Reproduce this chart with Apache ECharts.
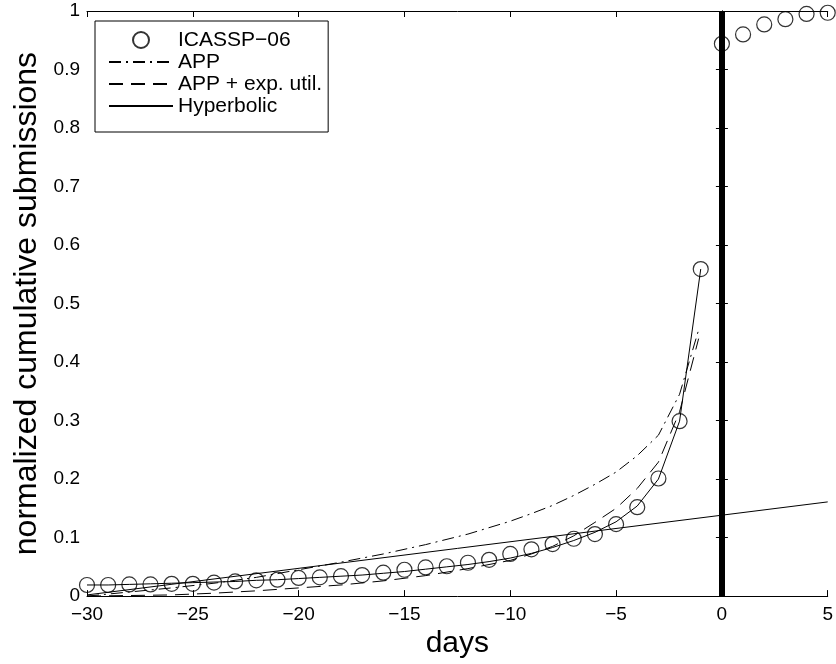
<!DOCTYPE html>
<html>
<head>
<meta charset="utf-8">
<script src="https://cdn.jsdelivr.net/npm/echarts@6/dist/echarts.min.js"></script>
<style>
  html, body { margin: 0; padding: 0; background: #fff; }
  #show { width: 836px; height: 664px; }
</style>
</head>
<body>
<div id="show"></div>
<script>
var myChart = echarts.init(document.getElementById("show"));

// observed submissions (days relative to deadline)
var icasspDays = [-30, -29, -28, -27, -26, -25, -24, -23, -22, -21, -20, -19, -18, -17, -16, -15,
                  -14, -13, -12, -11, -10, -9, -8, -7, -6, -5, -4, -3, -2, -1, 0, 1, 2, 3, 4, 5];
var icasspValues = [0.019, 0.019, 0.020, 0.020, 0.021, 0.021, 0.023, 0.025, 0.027, 0.028, 0.031, 0.032,
                    0.034, 0.036, 0.040, 0.045, 0.049, 0.051, 0.057, 0.062, 0.072, 0.080, 0.089, 0.098,
                    0.106, 0.123, 0.152, 0.201, 0.299, 0.559, 0.944, 0.960, 0.977, 0.986, 0.995, 0.997];

// model fits
var fitDays = [-30, -28, -26, -24, -22, -20, -18, -16, -14, -12, -10, -9, -8, -7, -6, -5, -4, -3, -2, -1.1];
var appValues = [0.000, 0.007, 0.014, 0.022, 0.032, 0.045, 0.058, 0.072, 0.088, 0.106, 0.128, 0.141,
                 0.155, 0.172, 0.191, 0.212, 0.240, 0.275, 0.345, 0.455];
var expUtilValues = [0.000, 0.001, 0.002, 0.005, 0.009, 0.014, 0.019, 0.026, 0.035, 0.047, 0.061, 0.072,
                     0.085, 0.103, 0.126, 0.150, 0.184, 0.229, 0.315, 0.440];

var hypDays = [-30, -29, -28, -27, -26, -25, -24, -23, -22, -21, -20, -19, -18, -17, -16, -15,
               -14, -13, -12, -11, -10, -9, -8, -7, -6, -5, -4, -3, -2, -1];
var hypValues = [0.019, 0.019, 0.020, 0.021, 0.022, 0.023, 0.024, 0.025, 0.027, 0.028, 0.030, 0.032,
                 0.034, 0.036, 0.039, 0.042, 0.046, 0.050, 0.054, 0.059, 0.065, 0.073, 0.083, 0.095,
                 0.109, 0.127, 0.154, 0.200, 0.299, 0.559];

var lineDays = [-30, 5];
var lineValues = [0.002, 0.161];

var deadline = 0;

function pairs(xs, ys) {
    return xs.map(function (x, i) { return [x, ys[i]]; });
}

var font = 'Liberation Sans';
var minus = function (v) { return String(v).replace('-', '\u2212'); };

var xBase = {
    type: 'value', min: -30, max: 5, interval: 5,
    axisLine: { show: true, onZero: false, lineStyle: { color: '#000', width: 1 } },
    axisTick: { show: true, inside: true, length: 6, lineStyle: { color: '#000' } },
    splitLine: { show: false }
};
var yBase = {
    type: 'value', min: 0, max: 1, interval: 0.1,
    axisLine: { show: true, lineStyle: { color: '#000', width: 1 } },
    axisTick: { show: true, inside: true, length: 6, lineStyle: { color: '#000' } },
    splitLine: { show: false }
};

var noSymbol = { opacity: 0 };

myChart.setOption({
    animation: false,
    textStyle: { fontFamily: font },
    grid: { left: 87, right: 8, top: 11, bottom: 67 },
    legend: {
        orient: 'vertical',
        left: 95, top: 21,
        data: [
            { name: 'ICASSP\u221206' },
            { name: 'APP', itemStyle: noSymbol },
            { name: 'APP + exp. util.', itemStyle: noSymbol },
            { name: 'Hyperbolic', itemStyle: noSymbol }
        ],
        itemWidth: 64, itemHeight: 16, itemGap: 0, itemTextGap: 6,
        padding: [8, 6, 15, 13],
        borderColor: '#000', borderWidth: 1,
        backgroundColor: '#fff',
        textStyle: { fontFamily: font, fontSize: 21, lineHeight: 22, color: '#000' }
    },
    xAxis: [
        echarts.util.merge({
            position: 'bottom',
            name: 'days', nameLocation: 'middle', nameGap: 31,
            nameTextStyle: { fontFamily: font, fontSize: 30, color: '#000' },
            axisLabel: { color: '#000', fontSize: 19, fontFamily: font, margin: 9, formatter: minus }
        }, xBase, true),
        echarts.util.merge({ position: 'top', axisLabel: { show: false } }, xBase, true)
    ],
    yAxis: [
        echarts.util.merge({
            position: 'left',
            name: 'normalized cumulative submissions', nameLocation: 'middle', nameGap: 44,
            nameTextStyle: { fontFamily: font, fontSize: 32, color: '#000' },
            axisLabel: { color: '#000', fontSize: 19, fontFamily: font, margin: 7 }
        }, yBase, true),
        echarts.util.merge({ position: 'right', axisLabel: { show: false } }, yBase, true)
    ],
    series: [
        {
            name: 'linear', type: 'line', data: pairs(lineDays, lineValues),
            symbol: 'none', silent: true,
            lineStyle: { color: '#000', width: 1 },
            markLine: {
                silent: true, symbol: 'none', label: { show: false },
                lineStyle: { color: '#000', width: 6, type: 'solid' },
                data: [{ xAxis: deadline }]
            }
        },
        {
            name: 'APP', type: 'line', data: pairs(fitDays, appValues),
            symbol: 'none', color: '#000',
            lineStyle: { color: '#000', width: 1, type: [12, 5, 2, 5] }
        },
        {
            name: 'APP + exp. util.', type: 'line', data: pairs(fitDays, expUtilValues),
            symbol: 'none', color: '#000',
            lineStyle: { color: '#000', width: 1, type: [14, 8] }
        },
        {
            name: 'Hyperbolic', type: 'line', data: pairs(hypDays, hypValues),
            symbol: 'none', color: '#000',
            lineStyle: { color: '#000', width: 1 }
        },
        {
            name: 'ICASSP\u221206', type: 'scatter', data: pairs(icasspDays, icasspValues),
            symbol: 'circle', symbolSize: 15, z: 5,
            itemStyle: { color: 'rgba(0,0,0,0)', borderColor: '#000', borderWidth: 1.2 }
        }
    ]
});
</script>
</body>
</html>
